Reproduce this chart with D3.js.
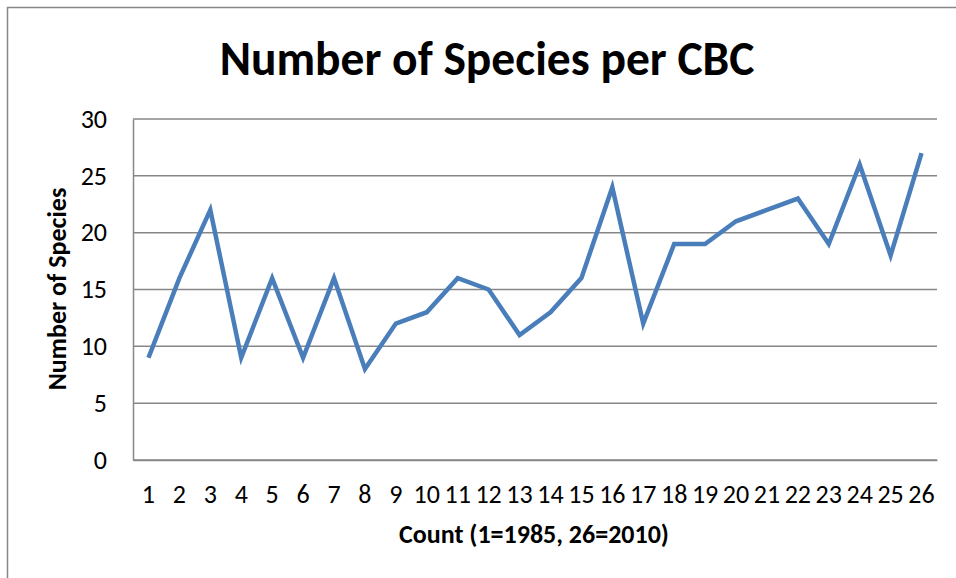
<!DOCTYPE html>
<html><head><meta charset="utf-8">
<script src="https://cdn.jsdelivr.net/npm/d3@7"></script>
<style>body{margin:0;background:#fff}svg{display:block}text{font-family:Carlito,"Open Sans","Noto Sans",sans-serif}</style>
</head><body><svg id="c" width="956" height="578"></svg>
<script>
const categories = ["1","2","3","4","5","6","7","8","9","10","11","12","13","14","15","16","17","18","19","20","21","22","23","24","25","26"];
const species = [9,16,22,9,16,9,16,8,12,13,16,15,11,13,16,24,12,19,19,21,22,23,19,26,18,27];
const yTicks = [0,5,10,15,20,25,30];
const title = "Number of Species per CBC";
const xTitle = "Count (1=1985, 26=2010)";
const yTitle = "Number of Species";

const FONT = 'Carlito,"Open Sans","Noto Sans",sans-serif';
const svg = d3.select("#c");
const m = {l:133, t:119, r:937, b:460};

// outer frame
svg.append("rect").attr("x",7.5).attr("y",7.5).attr("width",1000).attr("height",700)
  .attr("fill","none").attr("stroke","#878787").attr("stroke-width",1.5);

const x = d3.scaleBand().domain(categories).range([m.l, m.r]);
const y = d3.scaleLinear().domain([0,30]).range([m.b, m.t]);

// gridlines
svg.append("g").selectAll("line").data(yTicks).join("line")
  .attr("x1",m.l).attr("x2",m.r).attr("y1",d=>y(d)).attr("y2",d=>y(d))
  .attr("stroke","#878787").attr("stroke-width",1.5);

// y axis
const ya = svg.append("g").attr("transform",`translate(${m.l},0)`)
  .call(d3.axisLeft(y).tickValues(yTicks).tickSize(0).tickPadding(26));
ya.select(".domain").attr("stroke","#878787").attr("stroke-width",1.5);
ya.selectAll("text").attr("font-size",26).attr("fill","#000").attr("font-family",FONT);

// x axis
const xa = svg.append("g").attr("transform",`translate(0,${m.b})`)
  .call(d3.axisBottom(x).tickSize(0));
xa.select(".domain").attr("stroke","#878787").attr("stroke-width",1.5);
xa.selectAll("text").attr("font-size",26).attr("fill","#000").attr("font-family",FONT)
  .attr("dy",null).attr("y",43);

// line
const line = d3.line().x((d,i)=>x(categories[i])+x.bandwidth()/2).y(d=>y(d));
svg.append("path").datum(species).attr("d",line).attr("fill","none")
  .attr("stroke","#4a7ebb").attr("stroke-width",4.5).attr("stroke-linejoin","miter");

// titles
svg.append("text").attr("x",487).attr("y",75).attr("text-anchor","middle")
  .attr("font-size",47.5).attr("font-weight","bold").text(title);
svg.append("text").attr("x",534).attr("y",543).attr("text-anchor","middle")
  .attr("font-size",26).attr("font-weight","bold").text(xTitle);
svg.append("text").attr("transform","translate(66,289) rotate(-90)").attr("text-anchor","middle")
  .attr("font-size",26).attr("font-weight","bold").text(yTitle);
</script></body></html>
